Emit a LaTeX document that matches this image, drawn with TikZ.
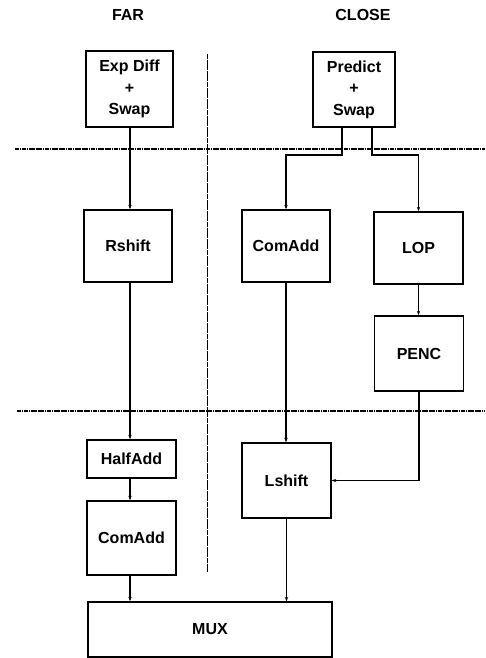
\documentclass[tikz,border=0pt]{standalone}
\usepackage{fontspec}
\setmainfont{Liberation Sans}
\usetikzlibrary{arrows.meta}
\begin{document}
\begin{tikzpicture}[x=1pt,y=-1pt,
  box/.style={draw,line width=1.5pt,rectangle,inner sep=0pt,align=center,
    font=\bfseries\fontsize{16}{21.5}\selectfont},
  lbl/.style={font=\bfseries\fontsize{16}{18}\selectfont},
  arr/.style={line width=1.2pt,-{Stealth[length=4.5pt,width=3.4pt]}},
  sep/.style={line width=1.1pt,dash pattern=on 1.8pt off 0.5pt},
  vsep/.style={line width=0.9pt,dash pattern=on 5pt off 0.6pt}]
\useasboundingbox (0,0) rectangle (485,658);
% labels
\node[lbl] (far) at (128,15) {FAR};
\node[lbl] (close) at (363,15) {CLOSE};
% separators
\draw[sep] (15,149) -- (485,149);
\draw[sep] (17,411) -- (485,411);
\draw[vsep] (207,54) -- (207,572);
% boxes
\node[box,minimum width=87pt,minimum height=76pt] (expd) at (129.5,89) {Exp Diff\\+\\Swap};
\node[box,minimum width=82pt,minimum height=75pt] (pred) at (354,89.5) {Predict\\+\\Swap};
\node[box,minimum width=88pt,minimum height=72pt] (rsh) at (128,246) {Rshift};
\node[box,minimum width=88pt,minimum height=72pt] (coma) at (286,246) {ComAdd};
\node[box,minimum width=89pt,minimum height=72pt] (lop) at (418.5,248) {LOP};
\node[box,minimum width=89pt,minimum height=75pt] (penc) at (419,353.5) {PENC};
\node[box,minimum width=89pt,minimum height=38pt] (half) at (131.5,459) {HalfAdd};
\node[box,minimum width=89pt,minimum height=74pt] (comb) at (131.5,538) {ComAdd};
\node[box,minimum width=89pt,minimum height=75pt] (lsh) at (286.5,480.5) {Lshift};
\node[box,minimum width=244pt,minimum height=55pt] (mux) at (210,629.5) {MUX};
% helper coordinates
\coordinate (xf) at (130,0);
\coordinate (pl) at (342,0);
\coordinate (pr) at (372,0);
\coordinate (yb) at (0,155);
% connectors
\draw[arr] (expd.south -| xf) -- (rsh.north -| xf);
\draw[arr] (rsh.south -| xf) -- (half.north -| xf);
\draw[arr] (half.south -| xf) -- (comb.north -| xf);
\draw[arr] (comb.south -| xf) -- (mux.north -| xf);
\draw[arr] (pred.south -| pl) -- (pl |- yb) -| (coma.north);
\draw[arr] (pred.south -| pr) -- (pr |- yb) -| (lop.north);
\draw[arr] (lop.south) -- (penc.north -| lop.south);
\draw[arr] (penc.south) |- (lsh.east);
\draw[arr] (coma.south) -- (lsh.north -| coma.south);
\draw[arr] (lsh.south) -- (mux.north -| lsh.south);
\end{tikzpicture}
\end{document}
